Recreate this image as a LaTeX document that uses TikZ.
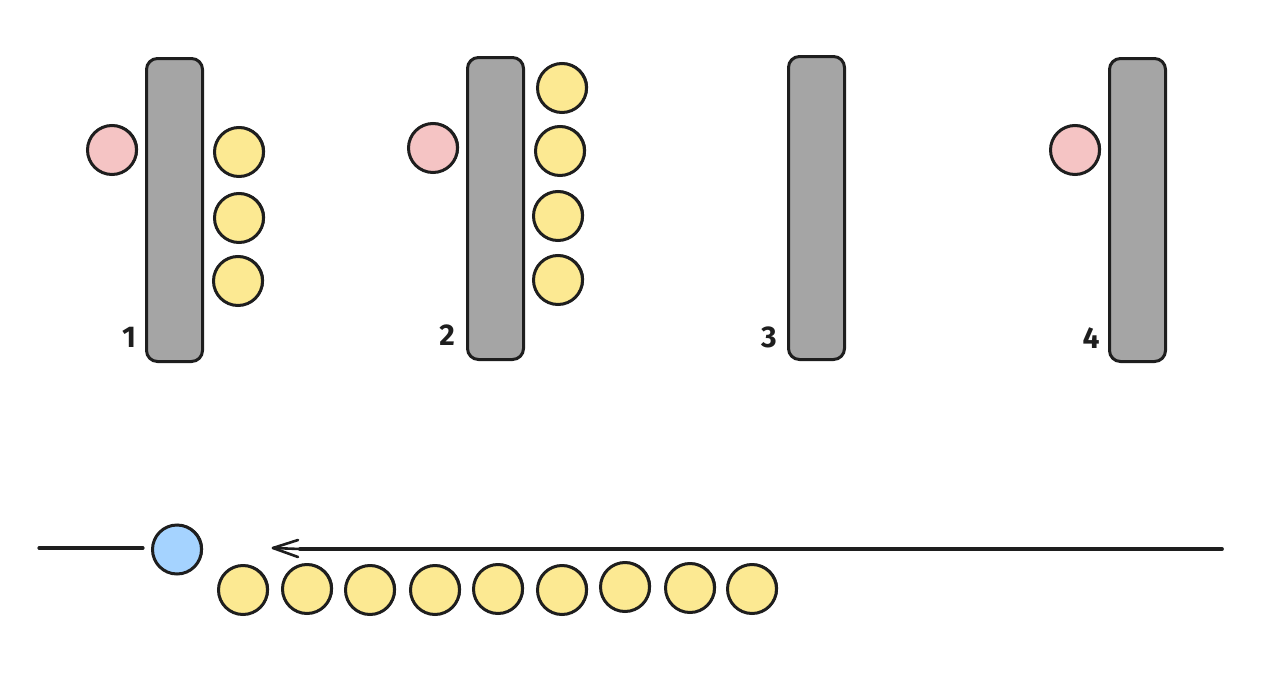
\documentclass[tikz,border=0pt]{standalone}
\usepackage{fontspec}
\setmainfont{Fira Sans}
\definecolor{ink}{HTML}{1E1E1E}
\definecolor{barfill}{HTML}{A5A5A5}
\definecolor{pinkfill}{HTML}{F5C4C4}
\definecolor{yellowfill}{HTML}{FCE992}
\definecolor{bluefill}{HTML}{A5D3FF}
\tikzset{
  barbox/.style={draw=ink,fill=barfill,line width=3pt,rounded corners=11pt,minimum width=56pt,inner sep=0pt,outer sep=0pt,
    append after command={\pgfextra{\draw[ink,line width=1.4pt,rounded corners=11pt]
      ([xshift=.6pt,yshift=.6pt]\tikzlastnode.south west) rectangle ([xshift=.5pt,yshift=-.5pt]\tikzlastnode.north east);}}},
  ball/.style={circle,draw=ink,line width=3pt,minimum size=49pt,inner sep=0pt,outer sep=0pt,
    append after command={\pgfextra{\draw[ink,line width=1.4pt]
      ([xshift=.6pt,yshift=.7pt]\tikzlastnode.center) ellipse [x radius=24.8pt,y radius=24.2pt];}}},
  pinkball/.style={ball,fill=pinkfill},
  yellowball/.style={ball,fill=yellowfill},
  blueball/.style={ball,fill=bluefill},
  numlabel/.style={text=ink,font=\fontsize{30}{30}\selectfont\bfseries,inner sep=0pt},
  line/.style={draw=ink,line cap=round,line join=round}
}
\begin{document}
\begin{tikzpicture}[x=1pt,y=-1pt]
\useasboundingbox (0,0) rectangle (1264,683);
% bars
\node[barbox,minimum height=303pt] (b1) at (174.5,210) {};
\node[barbox,minimum height=302pt] (b2) at (495.5,208.5) {};
\node[barbox,minimum height=303pt] (b3) at (816.5,208) {};
\node[barbox,minimum height=303pt] (b4) at (1137.5,210) {};
% pink
\node[pinkball] (p1) at (112,150) {};
\node[pinkball] (p2) at (433,148) {};
\node[pinkball] (p4) at (1075,150) {};
% yellow beside bars
\node[yellowball] (y11) at (239,152) {};
\node[yellowball] (y12) at (239,218) {};
\node[yellowball] (y13) at (238,281) {};
\node[yellowball] (y21) at (562,88) {};
\node[yellowball] (y22) at (560,151) {};
\node[yellowball] (y23) at (558,216) {};
\node[yellowball] (y24) at (558,280) {};
% numbers
\node[numlabel] (n1) at (129,337) {1};
\node[numlabel] (n2) at (447,335) {2};
\node[numlabel] (n3) at (769,337) {3};
\node[numlabel] (n4) at (1091,338) {4};
% bottom row
\node[blueball] (q) at (177,549.5) {};
\node[yellowball] (r1) at (243,590) {};
\node[yellowball] (r2) at (307,589) {};
\node[yellowball] (r3) at (370,590) {};
\node[yellowball] (r4) at (435,590) {};
\node[yellowball] (r5) at (498,589) {};
\node[yellowball] (r6) at (562,590) {};
\node[yellowball] (r7) at (625,587) {};
\node[yellowball] (r8) at (690,588) {};
\node[yellowball] (r9) at (752,589) {};
% lines
\coordinate (ls) at (39,548);
\coordinate (le) at (143,548);
\coordinate (as) at (1222,549);
\coordinate (am) at (300,549);
\coordinate (at) at (273,548);
\coordinate (bu) at (298,540);
\coordinate (bd) at (298,557);
\draw[line,line width=3.2pt] (ls) -- (le);
\draw[line,line width=3.8pt] (as) -- (am);
\draw[line,line width=2.6pt] (am) -- (at);
\draw[line,line width=2.6pt] (bu) -- (at) -- (bd);
\end{tikzpicture}
\end{document}
